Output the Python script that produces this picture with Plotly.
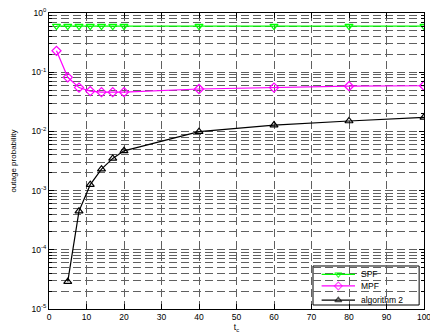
import plotly.graph_objects as go

names = ["SPF", "MPF", "algorithm 2"]

x_spf = [2, 5, 8, 11, 14, 17, 20, 40, 60, 80, 100]
y_spf = [0.60, 0.60, 0.60, 0.60, 0.60, 0.60, 0.60, 0.60, 0.60, 0.60, 0.60]

x_mpf = [2, 5, 8, 11, 14, 17, 20, 40, 60, 80, 100]
y_mpf = [0.23, 0.082, 0.055, 0.048, 0.046, 0.046, 0.046, 0.052, 0.055, 0.058, 0.059]

x_alg = [5, 8, 11, 14, 17, 20, 40, 60, 80, 100]
y_alg = [2.9e-5, 4.5e-4, 1.26e-3, 2.3e-3, 3.5e-3, 4.7e-3, 9.9e-3, 1.28e-2, 1.5e-2, 1.73e-2]

x_ticks = [0, 10, 20, 30, 40, 50, 60, 70, 80, 90, 100]
y_tickvals = [1e-5, 1e-4, 1e-3, 1e-2, 1e-1, 1]
y_ticktext = ["10<sup>-5</sup>", "10<sup>-4</sup>", "10<sup>-3</sup>", "10<sup>-2</sup>", "10<sup>-1</sup>", "10<sup>0</sup>"]

colors = ["#00ff00", "#ff00ff", "#000000"]
symbols = ["triangle-down-open", "diamond-open", "triangle-up-open"]
series = [(x_spf, y_spf), (x_mpf, y_mpf), (x_alg, y_alg)]

fig = go.Figure()
for (xs, ys), nm, c, s in zip(series, names, colors, symbols):
    fig.add_trace(go.Scatter(x=xs, y=ys, mode="lines+markers", name=nm, showlegend=False,
                             line=dict(color=c, width=1.2),
                             marker=dict(symbol=s, size=7, color=c, line=dict(width=1.2))))

# compact MATLAB-style legend, drawn on an invisible overlay axis (0..1 of the plot area)
leg_box = dict(x0=0.704, x1=0.987, y0=0.0135, y1=0.1453)
leg_rows = [0.117, 0.078, 0.030]
leg_line = (0.727, 0.816)
leg_text_x = 0.8267
for nm, c, s, r in zip(names, colors, symbols, leg_rows):
    fig.add_trace(go.Scatter(x=[leg_line[0], (leg_line[0] + leg_line[1]) / 2, leg_line[1]],
                             y=[r, r, r], xaxis="x2", yaxis="y2", mode="lines+markers",
                             showlegend=False, hoverinfo="skip",
                             line=dict(color=c, width=1.2),
                             marker=dict(symbol=s, size=[0, 6, 0], color=c, line=dict(width=1.2))))
    fig.add_annotation(x=leg_text_x, y=r, xref="paper", yref="paper", text=nm,
                       showarrow=False, xanchor="left", yanchor="middle",
                       font=dict(size=8.5, color="black"))
fig.add_shape(type="rect", xref="paper", yref="paper", layer="between",
              fillcolor="white", line=dict(color="black", width=1), **leg_box)

gc = "#606060"
gd = "8px,4px"
fig.update_layout(
    width=430, height=336,
    margin=dict(l=49, r=6, t=13, b=27, autoexpand=False),
    paper_bgcolor="white", plot_bgcolor="white",
    font=dict(family="Liberation Sans, Arial", size=8.5, color="black"),
    showlegend=False,
    xaxis=dict(range=[0, 100], tickvals=x_ticks, showline=True, linecolor="black", linewidth=1,
               mirror="ticks", ticks="inside", ticklen=5, tickcolor="black",
               zeroline=False, automargin=False, ticklabeloverflow="allow",
               title=dict(text="t<sub>c</sub>", standoff=0, font=dict(size=8.5)),
               showgrid=True, gridcolor=gc, gridwidth=1, griddash=gd),
    yaxis=dict(type="log", range=[-5, 0], tickvals=y_tickvals, ticktext=y_ticktext,
               showline=True, linecolor="black", linewidth=1, mirror="ticks",
               ticks="inside", ticklen=5, tickcolor="black", zeroline=False,
               automargin=False, ticklabeloverflow="allow",
               title=dict(text="outage probability", standoff=13, font=dict(size=8)),
               showgrid=True, gridcolor=gc, gridwidth=1, griddash=gd,
               minor=dict(dtick="D1", showgrid=True, gridcolor=gc, gridwidth=1,
                          griddash=gd, ticks="inside", ticklen=3, tickcolor="black")),
    xaxis2=dict(overlaying="x", range=[0, 1], visible=False, fixedrange=True),
    yaxis2=dict(overlaying="y", range=[0, 1], visible=False, fixedrange=True),
)
fig.write_html("out.html", config={"displayModeBar": False},
               post_script="document.body.style.margin='0';")
